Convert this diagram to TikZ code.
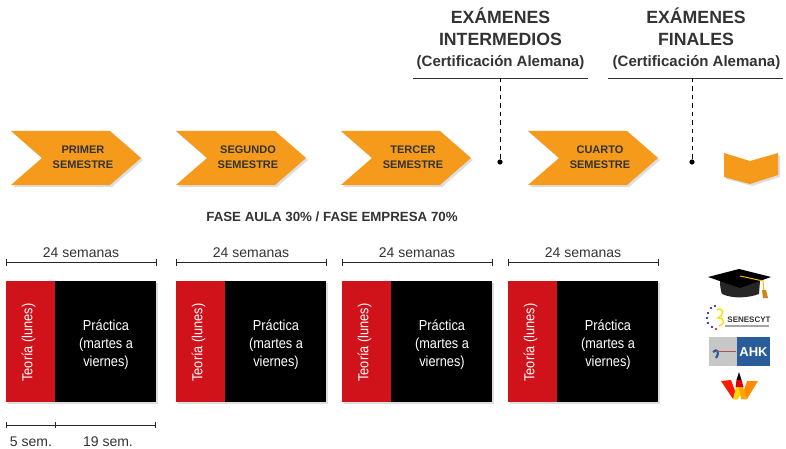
\documentclass[tikz,border=0pt]{standalone}
\usepackage{fontspec}
\setmainfont{Liberation Sans}
\newfontfamily\cond[FakeStretch=0.88]{Liberation Sans}
\usetikzlibrary{calc}
\definecolor{naranja}{HTML}{F59A1B}
\definecolor{rojo}{HTML}{D0121A}
\definecolor{txt}{HTML}{333333}
\definecolor{ahkblue}{HTML}{2A5C9A}
\newcommand{\fsz}[1]{\fontsize{#1}{#1}\selectfont}
\tikzset{
  chev/.style={fill=naranja,draw=none},
  shad/.style={fill=black,opacity=.13,draw=none},
  lab/.style={font=\fsz{11}\bfseries,text=txt,align=center,inner sep=0pt},
  rule/.style={draw=txt,line width=.8pt},
  dim/.style={draw=black!85,line width=1pt},
  tickm/.style={draw=black!85,line width=1pt},
  dashline/.style={draw=black,line width=.9pt,dash pattern=on 4.5pt off 4pt},
  dimtext/.style={font=\fsz{14},text=txt,inner sep=0pt,anchor=base},
  head/.style={font=\fsz{17.7}\bfseries,text=txt,inner sep=0pt,anchor=base},
  headsub/.style={font=\fsz{15}\bfseries,text=txt,inner sep=0pt,anchor=base},
  red box/.style={fill=rojo,draw=none,inner sep=0pt},
  black box/.style={fill=black,draw=none,inner sep=0pt},
  wtext/.style={text=white,inner sep=0pt,align=center,font=\fsz{14.5}\cond},
}
\newcommand{\chevron}[4]{% x, line1, line2, name
  \fill[shad] (#1+2,133) -- (#1+101,133) -- (#1+132,160) -- (#1+101,187) -- (#1+2,187) -- (#1+33,160) -- cycle;
  \fill[chev] (#1,131) -- (#1+99,131) -- (#1+130,158) -- (#1+99,185) -- (#1,185) -- (#1+31,158) -- cycle;
  \node[lab] (#4a) at (#1+72,150) {#2};
  \node[lab] (#4b) at (#1+72,165) {#3};
}
\newcommand{\weekblock}[2]{% x, name
  \coordinate (#2L) at (#1,262);
  \coordinate (#2R) at (#1+150,262);
  \draw[dim] (#2L) -- (#2R);
  \draw[tickm] ($(#2L)+(0,-3.5)$) -- ($(#2L)+(0,3.5)$);
  \draw[tickm] ($(#2R)+(0,-3.5)$) -- ($(#2R)+(0,3.5)$);
  \node[dimtext] (#2t) at (#1+75,257) {24 semanas};
  \fill[shad] (#1+2,283) rectangle (#1+152,404);
  \fill[red box] (#1,281) rectangle (#1+49,402);
  \fill[black box] (#1+49,281) rectangle (#1+150,402);
  \node[wtext,rotate=90] (#2r) at (#1+22.5,342.5) {Teoría (lunes)};
  \node[wtext] (#2p) at (#1+100,344.5) {Práctica\\[3.8pt](martes a\\[3.8pt]viernes)};
}
\begin{document}
\begin{tikzpicture}[x=1pt,y=-1pt]
\useasboundingbox (0,0) rectangle (786,449);
\fill[white] (0,0) rectangle (786,449);

% headers
\node[head] (h1a) at (500.5,24) {EXÁMENES};
\node[head] (h1b) at (500.5,46) {INTERMEDIOS};
\node[headsub] (h1c) at (500.5,67) {(Certificación Alemana)};
\node[head] (h2a) at (696,24) {EXÁMENES};
\node[head] (h2b) at (696,46) {FINALES};
\node[headsub] (h2c) at (696.5,67) {(Certificación Alemana)};
\coordinate (r1a) at (413,78); \coordinate (r1b) at (588,78);
\coordinate (r2a) at (608,78); \coordinate (r2b) at (783,78);
\draw[rule] (r1a) -- (r1b);
\draw[rule] (r2a) -- (r2b);
\coordinate (t1) at (500,78); \coordinate (d1) at (500,162);
\coordinate (t2) at (692,78); \coordinate (d2) at (692,162);
\draw[dashline] (t1) -- (d1);
\draw[dashline] (t2) -- (d2);
\fill[black] (d1) circle (2.6);
\fill[black] (d2) circle (2.6);

% chevrons
\chevron{11}{PRIMER}{SEMESTRE}{c1}
\chevron{176}{SEGUNDO}{SEMESTRE}{c2}
\chevron{341}{TERCER}{SEMESTRE}{c3}
\chevron{528}{CUARTO}{SEMESTRE}{c4}
\fill[shad] (726,155) -- (752,163) -- (780,155) -- (780,177) -- (752,186) -- (726,179) -- cycle;
\fill[chev] (724,153) -- (750,161) -- (778,153) -- (778,175) -- (750,184) -- (724,177) -- cycle;

\node[font=\fsz{13.3}\bfseries,text=txt,inner sep=0pt,anchor=base] (fase) at (332,221) {FASE AULA 30\% / FASE EMPRESA 70\%};

% blocks
\weekblock{6}{b1}
\weekblock{176}{b2}
\weekblock{342}{b3}
\weekblock{508}{b4}

% bottom dims
\coordinate (s0) at (6,425); \coordinate (s1) at (55,425); \coordinate (s2) at (155,425);
\draw[dim] (s0) -- (s2);
\foreach \p in {s0,s1,s2}{\draw[tickm] ($(\p)+(0,-3)$) -- ($(\p)+(0,3)$);}
\node[dimtext] (n5) at (31,446) {5 sem.};
\node[dimtext] (n19) at (108,446) {19 sem.};

% graduation cap
\fill[black!85] (720,281) .. controls (720,290) and (722,294) .. (722,294) .. controls (733,299) and (748,298) .. (759,294) -- (760,281) -- cycle;
\fill[black] (708,277) -- (739,269) -- (771,277) -- (740,288) -- cycle;
\draw[draw=naranja!70!yellow,line width=1pt] (740,276) -- (763,281) -- (764,292);
\fill[naranja!85!black] (762,290) -- (766,290) -- (768,298) -- (763,298) -- cycle;

% SENESCYT
\foreach \a/\b/\c in {708/313/blue!70!black,711/308/blue!70!black,715/306/blue!70!black,707/318/blue!70!black,708/323/blue!70!black,712/327/blue!70!black,716/329/red!80!black}{\fill[\c] (\a,\b) circle (1.1);}
\draw[draw=yellow!80!orange,line width=1.4pt] (717,310) .. controls (725,306) and (724,316) .. (718,318) .. controls (726,318) and (724,325) .. (719,326);
\node[font=\fsz{8}\bfseries,text=black!80,inner sep=0pt,anchor=base] (sen) at (749,322) {SENESCYT};
\fill[black!35] (725,324.5) rectangle (769,326.5);

% AHK
\fill[black!22] (709,337) rectangle (737,366);
\fill[ahkblue] (737,337) rectangle (770,366);
\node[font=\fsz{13}\bfseries,text=white,inner sep=0pt,anchor=base] (ahk) at (753.5,356.5) {AHK};
\draw[draw=ahkblue,line width=2.2pt] (713,352) .. controls (717,348) and (720,352) .. (716,358);
\draw[draw=red!60!black!70,line width=.6pt] (716,351) -- (736,351);

% W logo
\fill[red!80!orange] (721,381) -- (731,380) -- (738,399) -- (733,399) -- cycle;
\fill[orange!90!yellow] (758,381) -- (747,381) -- (741,399) -- (747,399) -- cycle;
\fill[yellow!75!orange] (733,399) -- (736,387) -- (739,387) -- (741,393) -- (738,399) -- cycle;
\fill[orange!70!yellow] (741,399) -- (739,387) -- (743,387) -- (745,393) -- (747,399) -- cycle;
\fill[black] (739,372) -- (741.5,380) -- (736.5,380) -- cycle;
\fill[red!85!black] (736.5,380) -- (741.5,380) -- (743.5,387) -- (735.5,387) -- cycle;
\end{tikzpicture}
\end{document}
